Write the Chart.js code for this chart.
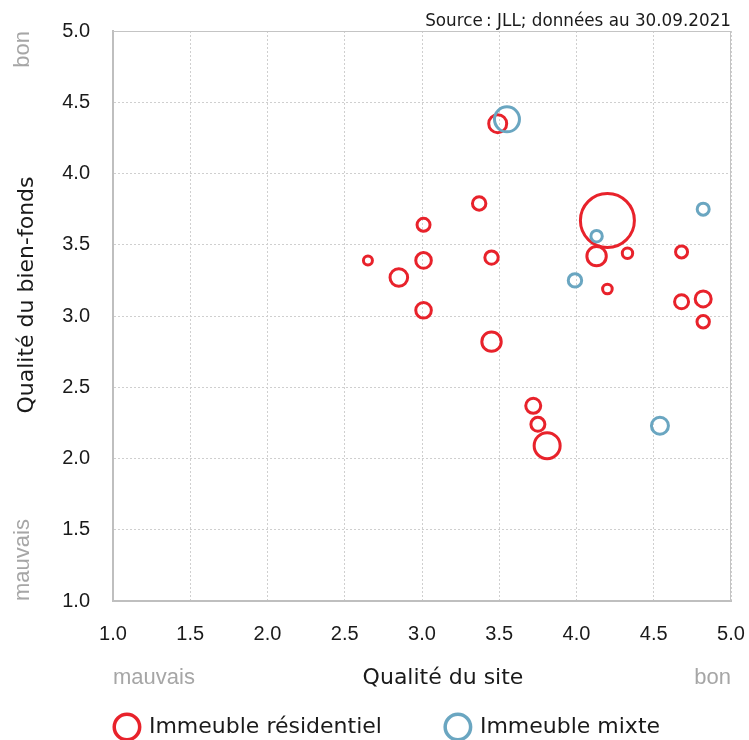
<!DOCTYPE html>
<html>
<head>
<meta charset="utf-8">
<script src="https://cdn.jsdelivr.net/npm/chart.js@4.4.0/dist/chart.umd.min.js"></script>
<style>
html,body{margin:0;padding:0;background:#ffffff;}
#wrap{width:749px;height:740px;}
</style>
</head>
<body>
<div id="wrap"><canvas id="c" width="749" height="740"></canvas></div>
<script>
// ---- data ----
const tickValues = [1.0, 1.5, 2.0, 2.5, 3.0, 3.5, 4.0, 4.5, 5.0];
const seriesNames = ['Immeuble résidentiel', 'Immeuble mixte'];
const xTitle = 'Qualité du site';
const yTitle = 'Qualité du bien-fonds';
const lowLabel = 'mauvais';
const highLabel = 'bon';
const sourceText = 'Source\u202F: JLL; données au 30.09.2021';

const resX    = [2.65, 2.85, 3.01, 3.01, 3.01, 3.37, 3.45, 3.45, 3.49, 3.72, 3.75, 3.81, 4.20, 4.13, 4.33, 4.20, 4.68, 4.68, 4.82, 4.82];
const resY    = [3.39, 3.27, 3.64, 3.39, 3.04, 3.79, 3.41, 2.82, 4.35, 2.37, 2.24, 2.09, 3.67, 3.42, 3.44, 3.19, 3.45, 3.10, 3.12, 2.96];
const resSize = [4.5, 8.8, 6.5, 7.8, 7.8, 6.7, 6.7, 9.7, 9.0, 7.5, 7.0, 13.0, 27.0, 9.7, 5.2, 4.8, 6.0, 7.0, 8.0, 6.2];

const mixX    = [3.55, 4.13, 3.99, 4.54, 4.82];
const mixY    = [4.38, 3.56, 3.25, 2.23, 3.75];
const mixSize = [12.5, 5.7, 6.7, 8.5, 6.0];

// ---- styles ----
const RED = '#E8222B';
const BLUE = '#6AA6C1';
const GRAY = '#A6A6A6';
const DARK = '#1a1a1a';

function toPoints(xs, ys, rs) {
  return xs.map((x, i) => ({x: x, y: ys[i], r: rs[i]}));
}

const extras = {
  id: 'extras',
  beforeDatasetsDraw(chart) {
    const {ctx, chartArea: a} = chart;
    ctx.save();
    ctx.strokeStyle = '#C4C4C4';
    ctx.lineWidth = 1;
    ctx.beginPath();
    ctx.moveTo(a.left, a.top + 0.5);
    ctx.lineTo(a.right, a.top + 0.5);
    ctx.moveTo(a.right - 0.5, a.top);
    ctx.lineTo(a.right - 0.5, a.bottom);
    ctx.stroke();
    ctx.restore();
  },
  afterDraw(chart) {
    const {ctx, chartArea: a} = chart;
    ctx.save();
    // source
    ctx.fillStyle = DARK;
    ctx.font = '16.8px "DejaVu Sans"';
    ctx.textAlign = 'right';
    ctx.textBaseline = 'alphabetic';
    ctx.fillText(sourceText, a.right, 26);

    // x axis title
    ctx.font = '22px "DejaVu Sans"';
    ctx.textAlign = 'center';
    ctx.fillStyle = DARK;
    ctx.fillText(xTitle, 443, 684);

    // x low/high
    ctx.font = '22px "Liberation Sans"';
    ctx.fillStyle = GRAY;
    ctx.textAlign = 'left';
    ctx.fillText(lowLabel, a.left, 684);
    ctx.textAlign = 'right';
    ctx.fillText(highLabel, a.right, 684);

    // y axis title (rotated)
    ctx.save();
    ctx.translate(33, 295);
    ctx.rotate(-Math.PI / 2);
    ctx.font = '22px "DejaVu Sans"';
    ctx.fillStyle = DARK;
    ctx.textAlign = 'center';
    ctx.fillText(yTitle, 0, 0);
    ctx.restore();

    // y low/high (rotated)
    ctx.save();
    ctx.translate(29, a.bottom);
    ctx.rotate(-Math.PI / 2);
    ctx.font = '22px "Liberation Sans"';
    ctx.fillStyle = GRAY;
    ctx.textAlign = 'left';
    ctx.fillText(lowLabel, 0, 0);
    ctx.restore();

    ctx.save();
    ctx.translate(29, a.top);
    ctx.rotate(-Math.PI / 2);
    ctx.font = '22px "Liberation Sans"';
    ctx.fillStyle = GRAY;
    ctx.textAlign = 'right';
    ctx.fillText(highLabel, 0, 0);
    ctx.restore();

    ctx.restore();
  }
};

const colors = [RED, BLUE];

new Chart(document.getElementById('c'), {
  type: 'bubble',
  data: {
    datasets: [
      {
        label: seriesNames[0],
        data: toPoints(resX, resY, resSize),
        borderColor: RED,
        backgroundColor: 'rgba(0,0,0,0)',
        borderWidth: 3,
        hoverBorderWidth: 3,
        order: 1
      },
      {
        label: seriesNames[1],
        data: toPoints(mixX, mixY, mixSize),
        borderColor: BLUE,
        backgroundColor: 'rgba(0,0,0,0)',
        borderWidth: 3,
        hoverBorderWidth: 3,
        order: 0
      }
    ]
  },
  options: {
    responsive: false,
    animation: false,
    events: [],
    layout: {autoPadding: false, padding: {left: 45, right: 18, top: 31, bottom: -8}},
    scales: {
      x: {
        type: 'linear',
        min: 1, max: 5,
        afterBuildTicks(scale) { scale.ticks = tickValues.map(v => ({value: v})); },
        afterFit(scale) { scale.height = 50; scale.paddingLeft = 0; scale.paddingRight = 0; },
        ticks: {
          callback: v => Number(v).toFixed(1),
          font: {family: '"Liberation Sans", Arial, sans-serif', size: 20},
          color: DARK,
          padding: 21,
          maxRotation: 0,
          autoSkip: false
        },
        grid: {
          color: '#CFCFCF',
          lineWidth: 1,
          drawTicks: false
        },
        border: {display: true, color: '#BFBFBF', width: 2, dash: [2, 2]}
      },
      y: {
        type: 'linear',
        min: 1, max: 5,
        afterBuildTicks(scale) { scale.ticks = tickValues.map(v => ({value: v})); },
        afterFit(scale) { scale.width = 68; scale.paddingTop = 0; scale.paddingBottom = 0; },
        ticks: {
          callback: v => Number(v).toFixed(1),
          font: {family: '"Liberation Sans", Arial, sans-serif', size: 20},
          color: DARK,
          padding: 23,
          autoSkip: false
        },
        grid: {
          color: '#CFCFCF',
          lineWidth: 1,
          drawTicks: false
        },
        border: {display: true, color: '#BFBFBF', width: 2, dash: [2, 2]}
      }
    },
    plugins: {
      tooltip: {enabled: false},
      legend: {
        position: 'bottom',
        labels: {
          usePointStyle: true,
          boxHeight: 18,
          boxWidth: 22,
          padding: 65,
          color: DARK,
          font: {family: '"DejaVu Sans"', size: 22},
          generateLabels(chart) {
            return seriesNames.map((n, i) => ({
              text: n,
              fillStyle: 'rgba(0,0,0,0)',
              strokeStyle: colors[i],
              lineWidth: 3.5,
              pointStyle: 'circle',
              fontColor: DARK,
              datasetIndex: i,
              hidden: false
            }));
          }
        }
      }
    }
  },
  plugins: [extras]
});
</script>
</body>
</html>
